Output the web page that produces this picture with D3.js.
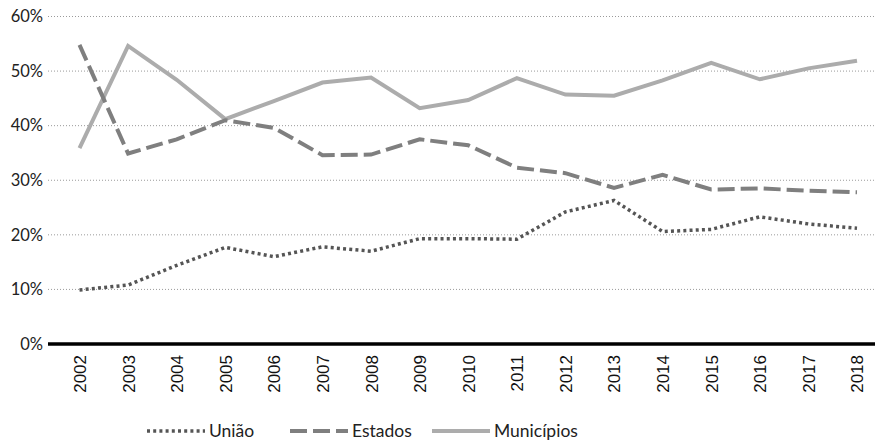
<!DOCTYPE html>
<html>
<head>
<meta charset="utf-8">
<script src="https://cdn.jsdelivr.net/npm/d3@7"></script>
<style>
  body { margin: 0; background: #fff; }
  svg { display: block; }
  .yAxis text { font-family: Lato, "Open Sans", sans-serif; font-size: 16.5px; fill: #222; }
  .legend text { font-family: Lato, "Open Sans", sans-serif; font-size: 17.5px; fill: #222; }
  .xAxis text { font-family: "Liberation Sans", Arial, sans-serif; font-size: 17px; fill: #111; }
</style>
</head>
<body>
<div class="graph"></div>
<script>
// Data (percent)
let years = ["2002", "2003", "2004", "2005", "2006", "2007", "2008", "2009", "2010",
  "2011", "2012", "2013", "2014", "2015", "2016", "2017", "2018"];
let uniao = [9.9, 10.8, 14.4, 17.7, 16.0, 17.8, 17.0, 19.3, 19.3, 19.2, 24.2, 26.3, 20.6, 21.0, 23.3, 22.0, 21.2];
let estados = [54.8, 34.9, 37.5, 41.0, 39.6, 34.6, 34.7, 37.5, 36.4, 32.3, 31.3, 28.6, 31.0, 28.3, 28.5, 28.1, 27.8];
let municipios = [35.9, 54.6, 48.4, 41.2, 44.5, 47.9, 48.8, 43.2, 44.7, 48.7, 45.7, 45.5, 48.3, 51.5, 48.5, 50.5, 51.9];
let yTicks = [0, 10, 20, 30, 40, 50, 60];
let seriesNames = ["União", "Estados", "Municípios"];

let width = 875;
let height = 441;

let svg = d3.select(".graph").append("svg")
  .attr("width", width)
  .attr("height", height);

// Scales
let x = d3.scalePoint()
  .domain(years)
  .range([79.5, 857]);

let y = d3.scaleLinear()
  .domain([0, 60])
  .range([344, 16.5]);

let plotLeft = 48;
let plotRight = 875;

// Gridlines (dotted)
svg.append("g")
  .selectAll("line")
  .data(yTicks.filter(d => d > 0))
  .join("line")
  .attr("x1", plotLeft)
  .attr("x2", plotRight)
  .attr("y1", d => y(d))
  .attr("y2", d => y(d))
  .attr("stroke", "#9a9a9a")
  .attr("stroke-width", 1)
  .attr("stroke-dasharray", "1,2");

// Y axis labels
let yAxis = svg.append("g")
  .attr("class", "yAxis")
  .attr("transform", "translate(" + plotLeft + ",0)")
  .call(d3.axisLeft(y).tickValues(yTicks).tickSize(0).tickPadding(5).tickFormat(d => d + "%"));
yAxis.select(".domain").remove();

// X axis: thick baseline + rotated year labels
let xAxis = svg.append("g")
  .attr("class", "xAxis")
  .attr("transform", "translate(0," + y(0) + ")")
  .call(d3.axisBottom(x).tickSize(0));
xAxis.select(".domain").remove();
xAxis.selectAll("text")
  .attr("transform", "rotate(-90)")
  .attr("text-anchor", "end")
  .attr("x", -11)
  .attr("y", 0)
  .attr("dy", "0.35em");

svg.append("line")
  .attr("x1", plotLeft)
  .attr("x2", plotRight)
  .attr("y1", y(0))
  .attr("y2", y(0))
  .attr("stroke", "#000")
  .attr("stroke-width", 3.5);

// Lines
let styles = [
  { data: uniao, color: "#555555", dash: "3,3.2", width: 3.5 },
  { data: estados, color: "#7f7f7f", dash: "17,6", width: 4 },
  { data: municipios, color: "#acacac", dash: null, width: 4 }
];

let line = d3.line()
  .x((d, i) => x(years[i]))
  .y(d => y(d));

svg.append("g")
  .selectAll("path")
  .data(styles.slice().reverse())
  .join("path")
  .attr("d", d => line(d.data))
  .attr("fill", "none")
  .attr("stroke", d => d.color)
  .attr("stroke-width", d => d.width)
  .attr("stroke-dasharray", d => d.dash)
  .attr("stroke-linejoin", "miter");

// Legend
let legendX = [147, 290, 432];
let legend = svg.append("g")
  .attr("class", "legend")
  .selectAll("g")
  .data(seriesNames)
  .join("g")
  .attr("transform", (d, i) => "translate(" + legendX[i] + ",431)");

legend.append("line")
  .attr("x1", 0)
  .attr("x2", 58)
  .attr("stroke", (d, i) => styles[i].color)
  .attr("stroke-width", (d, i) => styles[i].width)
  .attr("stroke-dasharray", (d, i) => styles[i].dash);

legend.append("text")
  .attr("x", 62)
  .attr("dy", "0.35em")
  .text(d => d);
</script>
</body>
</html>
